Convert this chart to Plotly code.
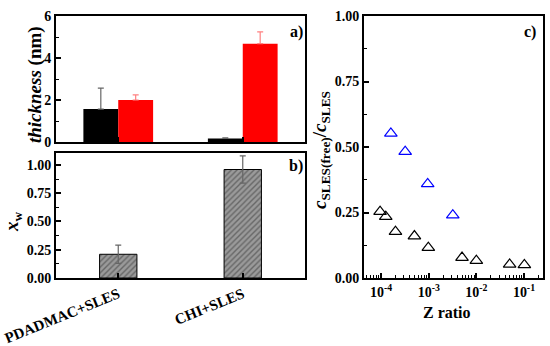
import plotly.graph_objects as go

# ---- data ----
categories = ["PDADMAC+SLES", "CHI+SLES"]
thick_black = [1.57, 0.17]
thick_black_err = [1.0, 0.03]
thick_red = [2.0, 4.68]
thick_red_err = [0.24, 0.56]
xw_vals = [0.21, 0.96]
xw_err = [0.08, 0.12]

z_black = [9.5e-5, 1.25e-4, 2.0e-4, 5.0e-4, 9.8e-4, 5.0e-3, 1.0e-2, 5.0e-2, 1.02e-1]
c_black = [0.253, 0.234, 0.177, 0.160, 0.116, 0.078, 0.066, 0.052, 0.050]
z_blue = [1.6e-4, 3.2e-4, 9.5e-4, 3.2e-3]
c_blue = [0.552, 0.482, 0.359, 0.240]

ytick_a = [0, 2, 4, 6]
ytick_b = [0.0, 0.25, 0.5, 0.75, 1.0]
ytick_c = [0.0, 0.25, 0.5, 0.75, 1.0]
xtick_c = [1e-4, 1e-3, 1e-2, 1e-1]
xtick_c_text = ["10<sup>-4</sup>", "10<sup>-3</sup>", "10<sup>-2</sup>", "10<sup>-1</sup>"]

W, H = 550, 346
FONT = "Liberation Serif"

def px(x):
    return x / W

def py(y):
    return 1 - y / H

fig = go.Figure()

# panel a
fig.add_trace(go.Bar(x=categories, y=thick_black, width=0.28, offset=-0.28,
                     marker=dict(color="black", line=dict(width=0)),
                     error_y=dict(type="data", array=thick_black_err, arrayminus=[0, 0],
                                  symmetric=False, color="#666666", thickness=1.2, width=3),
                     xaxis="x", yaxis="y", showlegend=False))
fig.add_trace(go.Bar(x=categories, y=thick_red, width=0.28, offset=0.0,
                     marker=dict(color="#ff0000", line=dict(width=0)),
                     error_y=dict(type="data", array=thick_red_err, arrayminus=[0, 0],
                                  symmetric=False, color="#ff8080", thickness=1.2, width=3),
                     xaxis="x", yaxis="y", showlegend=False))

# panel b
fig.add_trace(go.Bar(x=categories, y=xw_vals, width=0.3, offset=-0.15,
                     marker=dict(color="#999999", line=dict(color="black", width=1),
                                 pattern=dict(shape="/", fgcolor="#333333", bgcolor="#9a9a9a",
                                              size=4, solidity=0.35)),
                     error_y=dict(type="data", array=xw_err, color="#666666", thickness=1.2, width=3),
                     xaxis="x2", yaxis="y2", showlegend=False))

# panel c
fig.add_trace(go.Scatter(x=z_black, y=c_black, mode="markers",
                         marker=dict(symbol="triangle-up-open", size=11, color="black",
                                     line=dict(width=1.2, color="black")),
                         xaxis="x3", yaxis="y3", showlegend=False))
fig.add_trace(go.Scatter(x=z_blue, y=c_blue, mode="markers",
                         marker=dict(symbol="triangle-up-open", size=11, color="#0000ff",
                                     line=dict(width=1.2, color="#0000ff")),
                         xaxis="x3", yaxis="y3", showlegend=False))

tickfont = dict(family=FONT, size=14, color="black", weight="bold")
axline = dict(showline=True, linecolor="black", linewidth=2, mirror=True,
              ticks="inside", tickcolor="black", tickwidth=1.5, ticklen=5,
              showgrid=False, zeroline=False, tickfont=tickfont, automargin=False)

xa = dict(domain=[px(56), px(305)])
xc = dict(domain=[px(364), px(543)])
ya = dict(domain=[py(142), py(16)])
yb = dict(domain=[py(278), py(153)])
yc = dict(domain=[py(278), py(16)])

fig.update_layout(
    width=W, height=H,
    margin=dict(l=0, r=0, t=0, b=0, autoexpand=False),
    paper_bgcolor="white", plot_bgcolor="white",
    font=dict(family=FONT, color="black"),
    xaxis=dict(**axline, **xa, type="category", range=[-0.5, 1.5], showticklabels=False,
               anchor="y"),
    yaxis=dict(**axline, **ya, range=[0, 6], tickvals=ytick_a, anchor="x",
               minor=dict(ticks="inside", dtick=1, ticklen=3, tickwidth=1.2, tickcolor="black")),
    xaxis2=dict(**{**axline, "tickfont": dict(tickfont, size=15)}, **xa, type="category",
                range=[-0.5, 1.5], anchor="y2", tickangle=-22),
    yaxis2=dict(**axline, **yb, range=[0, 1.106], tickvals=ytick_b, tickformat=".2f",
                anchor="x2",
                minor=dict(ticks="inside", dtick=0.125, ticklen=3, tickwidth=1.2, tickcolor="black")),
    xaxis3=dict(**axline, **xc, type="log", range=[-4.36, -0.6], tickvals=xtick_c,
                ticktext=xtick_c_text, anchor="y3",
                minor=dict(ticks="inside", dtick="D1", ticklen=3, tickwidth=1.2, tickcolor="black")),
    yaxis3=dict(**axline, **yc, range=[0, 1.0], tickvals=ytick_c, tickformat=".2f",
                anchor="x3",
                minor=dict(ticks="inside", dtick=0.125, ticklen=3, tickwidth=1.2, tickcolor="black")),
)

ann_font = dict(family=FONT, size=16, color="black", weight="bold")
annotations = [
    dict(x=px(35), y=py(84), text="<i>thickness</i> (nm)", textangle=-90,
         font=dict(family=FONT, size=19, color="black", weight="bold")),
    dict(x=px(13), y=py(222), text="<i>x</i><sub>w</sub>", textangle=-90,
         font=dict(family=FONT, size=19, color="black", weight="bold")),
    dict(x=px(321), y=py(150),
         text="<i>c</i><sub>SLES(free)</sub>/<i>c</i><sub>SLES</sub>", textangle=-90,
         font=dict(family=FONT, size=19, color="black", weight="bold")),
    dict(x=px(447), y=py(312), text="Z ratio",
         font=dict(family=FONT, size=16, color="black", weight="bold")),
    dict(x=px(296), y=py(32), text="a)", font=ann_font),
    dict(x=px(296), y=py(166), text="b)", font=ann_font),
    dict(x=px(530), y=py(32), text="c)", font=ann_font),
]
for a in annotations:
    a.update(xref="paper", yref="paper", showarrow=False, xanchor="center", yanchor="middle")
fig.update_layout(annotations=annotations)

fig.write_html("out.html", post_script="document.body.style.margin='0';",
               config={"displayModeBar": False})
